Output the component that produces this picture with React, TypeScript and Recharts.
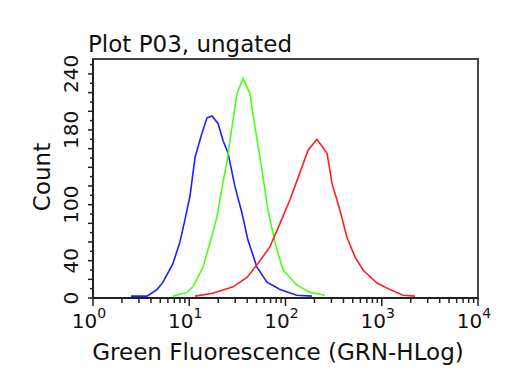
import { LineChart, Line, XAxis, YAxis, ReferenceArea } from "recharts";

// Fluorescence (GRN-HLog) vs count for each histogram
const blueX = [2.48, 3.64, 3.91, 4.62, 5.34, 6.78, 8.0, 9.03, 10.2, 11.5, 13.6, 15.3, 17.2, 19.9, 22.4, 25.3, 29.9, 35.3, 40.7, 50.5, 64.2, 81.6, 87.7, 131, 188];
const blueCount = [2, 2, 4, 9, 17, 37, 60, 84, 110, 151, 177, 193, 195, 187, 169, 155, 119, 91, 62, 33, 17, 11, 9, 3, 2];

const greenX = [6.78, 9.48, 10.9, 13.9, 16.4, 19.4, 21.9, 24.7, 27.8, 31.3, 36.2, 42.7, 48.2, 57.0, 65.8, 77.8, 94.2, 131, 180, 257];
const greenCount = [2, 6, 12, 33, 59, 87, 118, 147, 183, 219, 235, 219, 183, 137, 94, 59, 30, 14, 6, 3];

const redX = [11.5, 17.6, 28.5, 39.8, 51.8, 69.0, 87.7, 111, 141, 171, 212, 270, 304, 368, 435, 527, 638, 893, 1218, 1662, 2215];
const redCount = [2, 5, 12, 22, 37, 55, 80, 105, 134, 158, 170, 155, 123, 94, 65, 44, 30, 16, 9, 3, 2];

const xTicks = [1, 2, 3, 4, 5, 6, 7, 8, 9, 10, 20, 30, 40, 50, 60, 70, 80, 90, 100, 200, 300, 400, 500, 600, 700, 800, 900, 1000, 2000, 3000, 4000, 5000, 6000, 7000, 8000, 9000, 10000];
const decades = [1, 10, 100, 1000, 10000];
const yTicks = [0, 10, 20, 30, 40, 50, 60, 70, 80, 90, 100, 110, 120, 130, 140, 150, 160, 170, 180, 190, 200, 210, 220, 230, 240, 250];
const yLabels = [0, 40, 100, 180, 240];

const toPoints = (xs: number[], ys: number[]) => xs.map((x, i) => ({ x, y: ys[i] }));

const FONT = "DejaVu Sans";
const AXIS = "#222";

function XTick({ x, y, payload }: any) {
  const v = payload.value;
  const major = decades.includes(v);
  const exp = Math.round(Math.log10(v));
  return (
    <g>
      <line x1={x} x2={x} y1={y} y2={y + (major ? 8 : 5)} stroke={AXIS} strokeWidth={1.5} />
      {major && (
        <text x={x - 4} y={y + 30} textAnchor="middle" fontFamily={FONT} fontSize={20} fill="#111">
          10<tspan fontSize={14} dy={-10}>{exp}</tspan>
        </text>
      )}
    </g>
  );
}

function YTick({ x, y, payload }: any) {
  const v = payload.value;
  const major = v % 20 === 0;
  return (
    <g>
      <line x1={x - (major ? 5 : 3)} x2={x} y1={y} y2={y} stroke={AXIS} strokeWidth={1.5} />
      {yLabels.includes(v) && (
        <text x={x - 15} y={y} transform={`rotate(-90, ${x - 15}, ${y})`} textAnchor="middle"
          fontFamily={FONT} fontSize={20} fill="#111">
          {v}
        </text>
      )}
    </g>
  );
}

export default function App() {
  return (
    <div style={{ position: "absolute", left: 0, top: 0, width: 512, height: 384, background: "#fff" }}>
      <LineChart width={512} height={384} margin={{ top: 59, right: 34, bottom: 0, left: 0 }}>
        <XAxis type="number" dataKey="x" scale="log" domain={[1, 10000]} allowDataOverflow
          ticks={xTicks} interval={0} tick={<XTick />} tickLine={false} tickSize={0} tickMargin={0}
          height={86} stroke={AXIS} strokeWidth={2} />
        <YAxis type="number" dataKey="y" domain={[0, 256]} allowDataOverflow
          ticks={yTicks} interval={0} tick={<YTick />} tickLine={false} tickSize={0} tickMargin={0}
          width={93} stroke={AXIS} strokeWidth={2} />
        <ReferenceArea x1={1} x2={10000} y1={0} y2={256} fill="none" stroke="#444" strokeWidth={2} ifOverflow="visible" />
        <Line data={toPoints(blueX, blueCount)} dataKey="y" type="linear" stroke="#1f1fff" strokeWidth={1.6} dot={false} isAnimationActive={false} />
        <Line data={toPoints(greenX, greenCount)} dataKey="y" type="linear" stroke="#4dff1a" strokeWidth={1.6} dot={false} isAnimationActive={false} />
        <Line data={toPoints(redX, redCount)} dataKey="y" type="linear" stroke="#ff2020" strokeWidth={1.6} dot={false} isAnimationActive={false} />
      </LineChart>
      <svg width={512} height={384} style={{ position: "absolute", left: 0, top: 0, pointerEvents: "none" }}>
        <text x={88} y={52} fontFamily={FONT} fontSize={23} fill="#111">Plot P03, ungated</text>
        <text x={278} y={360} textAnchor="middle" fontFamily={FONT} fontSize={23} fill="#111">
          Green Fluorescence (GRN-HLog)
        </text>
        <text x={50} y={177} transform="rotate(-90, 50, 177)" textAnchor="middle" fontFamily={FONT} fontSize={23} fill="#111">
          Count
        </text>
      </svg>
    </div>
  );
}
